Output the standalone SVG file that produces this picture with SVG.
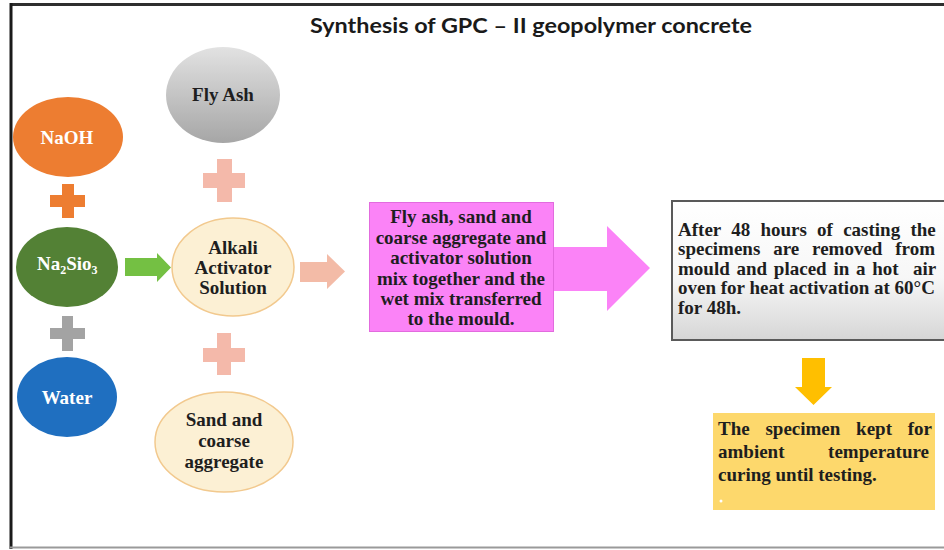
<svg xmlns="http://www.w3.org/2000/svg" width="944" height="550" viewBox="0 0 944 550">
  <defs>
    <linearGradient id="gFly" x1="0" y1="0" x2="0" y2="1">
      <stop offset="0" stop-color="#e2e2e2"/>
      <stop offset="1" stop-color="#a6a6a6"/>
    </linearGradient>
    <linearGradient id="gNote" x1="0" y1="0" x2="0" y2="1">
      <stop offset="0" stop-color="#ffffff"/>
      <stop offset="0.55" stop-color="#f7f7f7"/>
      <stop offset="1" stop-color="#d6d6d6"/>
    </linearGradient>
  </defs>
  <style>
    .serif { font-family: "Liberation Serif", "Times New Roman", serif; font-weight: bold; font-size: 19px; }
    .dark { fill: #1e1e1e; }
    .light { fill: #ffffff; }
    .mid { text-anchor: middle; }
    .cream { fill: #fcf0d4; stroke: #f2c98e; stroke-width: 1.5; }
  </style>

  <rect x="0" y="0" width="944" height="550" fill="#ffffff"/>

  <!-- page frame -->
  <g id="frame">
    <line x1="10" y1="4.5" x2="944" y2="4.5" stroke="#2e2e2e" stroke-width="3"/>
    <line x1="11" y1="3" x2="11" y2="549" stroke="#1a1a1a" stroke-width="3"/>
    <line x1="10" y1="547.5" x2="944" y2="547.5" stroke="#9a9a9a" stroke-width="2"/>
  </g>

  <text id="title" x="310" y="33" textLength="442" lengthAdjust="spacingAndGlyphs" font-family="Lato, 'Open Sans', sans-serif" font-size="21" font-weight="bold" fill="#1a1a1a">Synthesis of GPC – II geopolymer concrete</text>

  <!-- raw materials -->
  <g id="fly-ash">
    <ellipse cx="223" cy="95" rx="57" ry="48" fill="url(#gFly)"/>
    <text class="serif dark mid" x="223" y="101">Fly Ash</text>
  </g>
  <g id="naoh">
    <ellipse cx="68" cy="137" rx="55" ry="40" fill="#ed7d31"/>
    <text class="serif light mid" x="67" y="144">NaOH</text>
  </g>
  <g id="na2sio3">
    <ellipse cx="67" cy="267" rx="51" ry="40" fill="#538135"/>
    <text class="serif light" x="37" y="270">Na<tspan font-size="12" dy="4">2</tspan><tspan dy="-4">Si</tspan>o<tspan font-size="12" dy="4">3</tspan></text>
  </g>
  <g id="water">
    <ellipse cx="67" cy="397" rx="50" ry="40" fill="#1f6fc0"/>
    <text class="serif light mid" x="67" y="404">Water</text>
  </g>
  <g id="activator">
    <ellipse class="cream" cx="233" cy="267" rx="61" ry="49"/>
    <text class="serif dark mid" x="233" y="254">Alkali</text>
    <text class="serif dark mid" x="233" y="274">Activator</text>
    <text class="serif dark mid" x="233" y="294">Solution</text>
  </g>
  <g id="sand">
    <ellipse class="cream" cx="224" cy="442" rx="69" ry="50"/>
    <text class="serif dark mid" x="224" y="426">Sand and</text>
    <text class="serif dark mid" x="224" y="447">coarse</text>
    <text class="serif dark mid" x="224" y="468">aggregate</text>
  </g>

  <!-- mixing step: box with arrow -->
  <g id="mixing">
    <polygon points="369,202 553,202 553,247 607,247 607,226 650,268 607,311 607,291 553,291 553,332 369,332" fill="#fb83f7"/>
    <rect x="369.5" y="202.5" width="184" height="129" fill="none" stroke="#e26bde" stroke-width="1"/>
    <text class="serif dark mid" x="461" y="223">Fly ash, sand and</text>
    <text class="serif dark mid" x="461" y="244">coarse aggregate and</text>
    <text class="serif dark mid" x="461" y="264">activator solution</text>
    <text class="serif dark mid" x="461" y="285">mix together and the</text>
    <text class="serif dark mid" x="461" y="305">wet mix transferred</text>
    <text class="serif dark mid" x="461" y="325">to the mould.</text>
  </g>

  <!-- heat activation step -->
  <g id="heating">
    <rect x="672" y="201" width="290" height="139" fill="url(#gNote)" stroke="#5a5a5a" stroke-width="2"/>
    <text class="serif dark" x="678" y="236" word-spacing="5.5">After 48 hours of casting the</text>
    <text class="serif dark" x="678" y="255" word-spacing="8.1">specimens are removed from</text>
    <text class="serif dark" x="678" y="275" word-spacing="2">mould and placed in a hot <tspan x="913">air</tspan></text>
    <text class="serif dark" x="678" y="294">oven for heat activation at 60°C</text>
    <text class="serif dark" x="678" y="314">for 48h.</text>
  </g>

  <!-- ambient curing step -->
  <g id="curing">
    <rect x="713" y="413" width="222" height="97" fill="#fdd86c"/>
    <text class="serif dark" x="718" y="435" word-spacing="11">The specimen kept for</text>
    <text class="serif dark" x="718" y="458">ambient</text>
    <text class="serif dark" x="929" y="458" text-anchor="end">temperature</text>
    <text class="serif dark" x="718" y="481">curing until testing.</text>
    <circle cx="721" cy="501" r="1.5" fill="#ffffff"/>
  </g>

  <!-- connectors: plus signs and arrows -->
  <g id="connectors">
    <path d="M50,195 H62 V184 H74 V195 H85 V207 H74 V218 H62 V207 H50 Z" fill="#ed7d31"/>
    <path d="M50,328 H62 V316 H73 V328 H85 V339 H73 V351 H62 V339 H50 Z" fill="#a3a3a3"/>
    <path d="M203,173 H217 V159 H232 V173 H245 V188 H232 V202 H217 V188 H203 Z" fill="#f4b9aa"/>
    <path d="M203,348 H217 V333 H231 V348 H245 V362 H231 V375 H217 V362 H203 Z" fill="#f4b9aa"/>
    <polygon points="125,258 157,258 157,253 171,267.5 157,282 157,276 125,276" fill="#74c043"/>
    <polygon points="300,262 327,262 327,254 345,271.5 327,289 327,282 300,282" fill="#f3bba7"/>
    <polygon points="802,358 825,358 825,387 832,387 813.5,405 795,387 802,387" fill="#ffbf00"/>
  </g>
</svg>
